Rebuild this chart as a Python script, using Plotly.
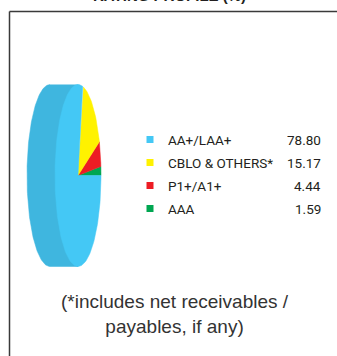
import numpy as np
import plotly.graph_objects as go

# Rating profile (%)
categories = ["AAA", "P1+/A1+", "CBLO & OTHERS*", "AA+/LAA+"]
values = [1.59, 4.44, 15.17, 78.80]
colors = ["#00A651", "#ED1C24", "#FFF200", "#44C8F5"]

# legend order (top to bottom)
legend_order = ["AA+/LAA+", "CBLO & OTHERS*", "P1+/A1+", "AAA"]

W, H = 337, 356

# pie geometry (plot units = pixels)
CX, CY = 78.0, 175.5      # centre of the front face
RX, RY = 23.0, 91.0       # semi-axes of the front face
DEPTH = 28.0              # horizontal extrusion of the cylinder
SIDE_COLOR = "#3FB6DF"

fig = go.Figure()

# cylinder side: back half-ellipse + band joining it to the front face
t = np.linspace(np.pi / 2, 3 * np.pi / 2, 120)
bx = list(CX - DEPTH + RX * np.cos(t)) + [CX, CX]
by = list(CY - RY * np.sin(t)) + [CY + RY, CY - RY]
fig.add_trace(go.Scatter(x=bx, y=by, fill="toself", mode="lines",
                         fillcolor=SIDE_COLOR, line=dict(color=SIDE_COLOR, width=0.5),
                         hoverinfo="skip", showlegend=False))

# front face slices, counter-clockwise from 3 o'clock
total = sum(values)
start = 0.0
for cat, val, col in zip(categories, values, colors):
    a0 = start
    a1 = start + 2 * np.pi * val / total
    start = a1
    n = max(8, int(200 * val / total))
    th = np.linspace(a0, a1, n)
    xs = [CX] + list(CX + RX * np.cos(th)) + [CX]
    ys = [CY] + list(CY - RY * np.sin(th)) + [CY]
    fig.add_trace(go.Scatter(x=xs, y=ys, fill="toself", mode="lines",
                             fillcolor=col, line=dict(color=col, width=0.5),
                             name=cat, hoverinfo="name", showlegend=False))

# legend rows
row_y = [139.5, 162.5, 185.5, 208.5]
sq_x = [150.0] * len(legend_order)
sq_col = [colors[categories.index(c)] for c in legend_order]
fig.add_trace(go.Scatter(x=sq_x, y=row_y, mode="markers",
                         marker=dict(symbol="square", size=7, color=sq_col, line=dict(width=0)),
                         hoverinfo="skip", showlegend=False))

legend_font = dict(family="Roboto, Arial", size=13.5, color="#231F20")
annotations = []
for cat, y in zip(legend_order, row_y):
    v = values[categories.index(cat)]
    annotations.append(dict(x=166, y=y, xref="x", yref="y", text=cat, showarrow=False,
                            xanchor="left", yanchor="middle", font=legend_font))
    annotations.append(dict(x=323, y=y, xref="x", yref="y", text=f"{v:.2f}", showarrow=False,
                            xanchor="right", yanchor="middle", font=legend_font))

# title (sits at the very top, mostly above the frame)
annotations.append(dict(x=169, y=1 + 4.5 / H, xref="x", yref="paper",
                        text="<b>RATING PROFILE (%)</b>", showarrow=False,
                        xanchor="center", yanchor="middle",
                        font=dict(family="Arial", size=15, color="#231F20")))

# footnote
annotations.append(dict(x=175, y=314, xref="x", yref="y",
                        text="(*includes net receivables /<br>payables, if any)",
                        showarrow=False, xanchor="center", yanchor="middle",
                        font=dict(family="Arial", size=19, color="#333333")))

# frame
shapes = [
    dict(type="line", xref="x", yref="y", x0=9.5, y0=11.5, x1=W + 5, y1=11.5,
         line=dict(color="#3A3A3A", width=1.5)),
    dict(type="line", xref="x", yref="y", x0=9.5, y0=11.5, x1=9.5, y1=H + 5,
         line=dict(color="#3A3A3A", width=1.5)),
]

fig.update_layout(
    width=W, height=H,
    margin=dict(l=0, r=0, t=0, b=0),
    paper_bgcolor="white", plot_bgcolor="white",
    xaxis=dict(range=[0, W], visible=False, fixedrange=True),
    yaxis=dict(range=[H, 0], visible=False, fixedrange=True),
    annotations=annotations,
    shapes=shapes,
    showlegend=False,
)

fig.write_html("out.html")
